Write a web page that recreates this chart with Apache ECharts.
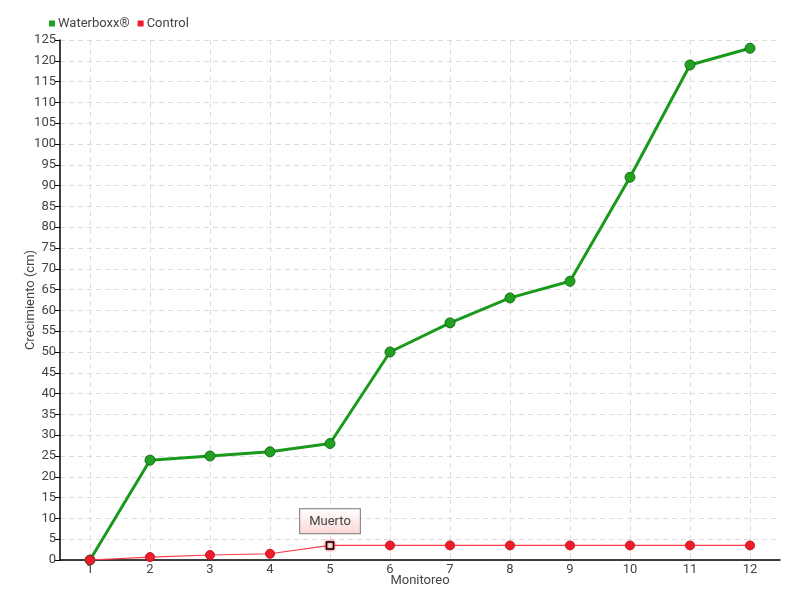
<!DOCTYPE html>
<html><head><meta charset="utf-8">
<script src="https://cdn.jsdelivr.net/npm/echarts@6/dist/echarts.min.js"></script>
<style>html,body{margin:0;padding:0;background:#fff}#c{width:800px;height:600px}</style>
</head><body><div id="c"></div>
<script>
const categories = ['1','2','3','4','5','6','7','8','9','10','11','12'];
const waterboxx = [0, 24, 25, 26, 28, 50, 57, 63, 67, 92, 119, 123];
const control = [0, 0.7, 1.2, 1.5, 3.5, 3.5, 3.5, 3.5, 3.5, 3.5, 3.5, 3.5];
const deadIndex = 4;
const deadLabel = 'Muerto';

const FONT = 'Roboto, sans-serif';
const chart = echarts.init(document.getElementById('c'));
const controlData = control.map((v, i) => i === deadIndex ? {
  value: v, symbol: 'rect', symbolSize: 7,
  itemStyle: {color: '#fff', borderColor: '#000', borderWidth: 1.5, shadowColor: '#ff2030', shadowBlur: 3},
  label: {show: true, position: 'top', distance: 8, formatter: deadLabel, color: '#444', fontSize: 13, fontFamily: FONT,
    padding: [6, 9, 5, 9], borderColor: '#777', borderWidth: 1,
    backgroundColor: {type: 'linear', x: 0, y: 0, x2: 0, y2: 1, colorStops: [{offset: 0, color: '#fff'}, {offset: 1, color: '#fcd6d6'}]}}
} : v);

chart.setOption({
  animation: false,
  textStyle: {fontFamily: FONT},
  legend: {left: 44, top: 12, itemWidth: 6, itemHeight: 6, itemGap: 8, icon: 'rect',
    itemStyle: {borderWidth: 0},
    textStyle: {color: '#444', fontSize: 13, fontFamily: FONT, padding: [0, 0, 0, -2]},
    data: ['Waterboxx®', 'Control']},
  grid: {left: 60, right: 20, top: 40, bottom: 40},
  xAxis: {type: 'category', data: categories, boundaryGap: true,
    name: 'Monitoreo', nameLocation: 'middle', nameGap: 14, nameMoveOverlap: false,
    nameTextStyle: {color: '#444', fontSize: 13, fontFamily: FONT},
    axisLine: {lineStyle: {color: '#000', width: 1.5}},
    axisTick: {alignWithLabel: true, length: 5, lineStyle: {color: '#000'}},
    axisLabel: {color: '#444', fontSize: 13, margin: 3, fontFamily: FONT},
    splitLine: {show: true, interval: 0, alignWithLabel: true, lineStyle: {color: '#ddd', type: [5, 4]}}},
  yAxis: {type: 'value', min: 0, max: 125, interval: 5,
    name: 'Crecimiento (cm)', nameLocation: 'middle', nameGap: 23, nameMoveOverlap: false,
    nameTextStyle: {color: '#444', fontSize: 13, fontFamily: FONT},
    axisLine: {show: true, lineStyle: {color: '#000', width: 1.5}},
    axisTick: {show: true, length: 5, lineStyle: {color: '#000'}},
    axisLabel: {color: '#444', fontSize: 13, margin: 4, fontFamily: FONT},
    splitLine: {show: true, lineStyle: {color: '#ddd', type: [5, 4]}}},
  series: [
    {name: 'Waterboxx®', type: 'line', data: waterboxx, symbol: 'circle', symbolSize: 10,
      color: '#1aa01a',
      lineStyle: {color: '#1a9a1a', width: 3},
      itemStyle: {color: '#22a022', borderColor: '#157015', borderWidth: 1}, z: 2},
    {name: 'Control', type: 'line', data: controlData, symbol: 'circle', symbolSize: 9,
      color: '#ee1c2c',
      lineStyle: {color: '#ff3a4a', width: 1.2},
      itemStyle: {color: '#ee1c2c', borderColor: '#c81020', borderWidth: 1}, z: 3}
  ]
});
</script></body></html>
